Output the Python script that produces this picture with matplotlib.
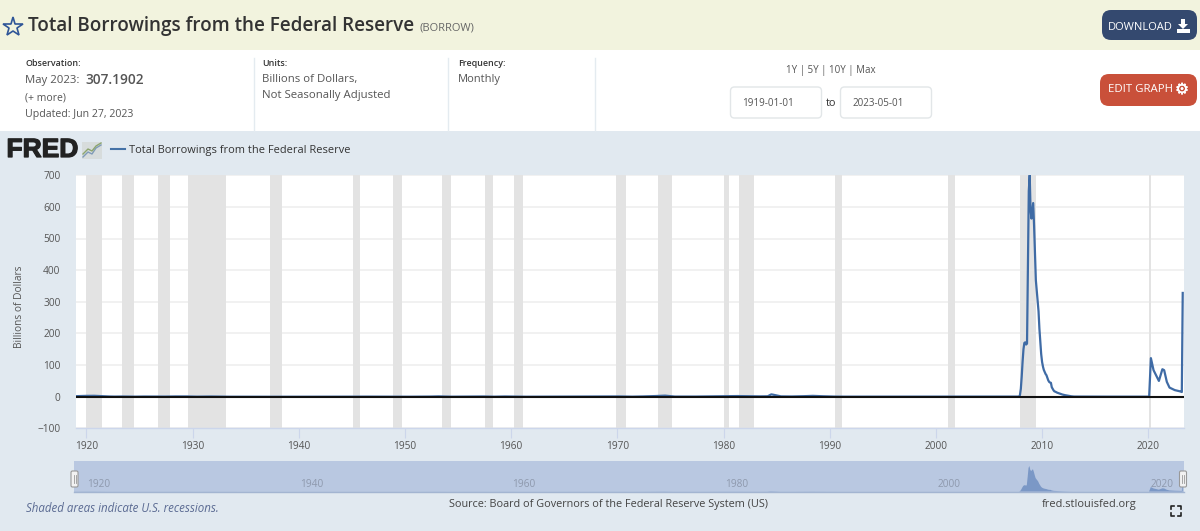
import matplotlib
matplotlib.use("Agg")
import matplotlib.pyplot as plt
import matplotlib.dates as mdates
import matplotlib.patheffects as pe
import matplotlib.transforms as mtrans
import pandas as pd
from matplotlib.patches import FancyBboxPatch, Rectangle, Polygon

W, H = 1200, 531
FONT = "Open Sans"
plt.rcParams["font.family"] = [FONT, "DejaVu Sans"]

TITLE = "Total Borrowings from the Federal Reserve"
SERIES_ID = "(BORROW)"
SOURCE = "Source: Board of Governors of the Federal Reserve System (US)"

early_dates = ["1919-01","1919-06","1920-01","1920-10","1921-06","1922-03","1922-09","1923-06","1924-01","1924-08",
               "1925-06","1926-06","1927-06","1928-06","1929-06","1930-06","1931-10","1932-06","1933-06","1934-06",
               "1937-06","1940-06","1945-06","1946-06","1950-06","1952-06","1953-03","1954-06","1956-06","1957-06",
               "1958-06","1959-06","1960-03","1961-06","1965-06","1966-09","1969-06","1970-03","1971-06","1972-06",
               "1973-08","1974-07","1975-06","1977-06","1978-10","1979-10","1980-04","1981-05","1982-06","1983-06",
               "1984-03","1984-07","1984-09","1985-06","1986-06","1987-08","1988-06","1989-06","1990-06","1991-06",
               "1995-06","2000-06","2001-09","2002-01","2005-06","2007-10","2007-11"]
early_vals = [1.8,2.2,2.8,3.0,2.0,0.8,0.5,0.8,0.5,0.3,
              0.7,0.6,0.5,1.0,1.0,0.3,0.8,0.5,0.1,0.0,
              0.0,0.0,0.3,0.4,0.1,0.6,1.2,0.2,0.9,0.9,
              0.2,0.9,0.6,0.1,0.5,0.8,1.2,1.0,0.3,1.0,
              2.2,3.5,0.6,0.6,1.2,2.0,2.0,2.2,1.5,1.2,
              1.5,7.5,6.5,1.2,0.9,1.8,2.8,1.5,0.6,0.3,
              0.3,0.3,0.3,0.1,0.2,0.3,0.5]

crisis_dates = ["2007-12","2008-01","2008-02","2008-03","2008-04","2008-05","2008-06","2008-07","2008-08","2008-09",
                "2008-10","2008-11","2008-12","2009-01","2009-02","2009-03","2009-04","2009-05","2009-06","2009-07",
                "2009-08","2009-09","2009-10","2009-11","2009-12","2010-01","2010-02","2010-03","2010-04","2010-05",
                "2010-06","2010-07","2010-08","2010-09","2010-10","2010-11","2010-12","2011-01","2011-02","2011-03",
                "2011-04","2011-06","2011-08","2011-10","2011-12","2012-03","2012-07","2012-10","2013-01","2016-01","2020-01"]
crisis_vals = [5,25,65,110,150,170,172,165,168,400,
               650,700,590,563,590,612,540,450,368,335,
               305,270,215,175,135,110,95,85,78,72,
               68,60,52,47,45,44,30,25,20,17,
               16,13,11,9,7,5,3,1.5,0.6,0.3,0.3]

recent_dates = ["2020-02","2020-03","2020-04","2020-07","2020-11","2021-01","2021-05","2021-07","2021-10","2022-01",
                "2022-07","2023-01","2023-03","2023-04"]
recent_vals = [0.3,60,122,84,61,50,87,84,47,29,21,17,15,328]

rec_start = ["1920-01","1923-05","1926-10","1929-08","1937-05","1945-02","1948-11","1953-07","1957-08","1960-04",
             "1969-12","1973-11","1980-01","1981-07","1990-07","2001-03","2007-12","2020-02"]
rec_end = ["1921-07","1924-07","1927-11","1933-03","1938-06","1945-10","1949-10","1954-05","1958-04","1961-02",
           "1970-11","1975-03","1980-07","1982-11","1991-03","2001-11","2009-06","2020-04"]

y_ticks = [-100, 0, 100, 200, 300, 400, 500, 600, 700]
x_tick_years = [1920, 1930, 1940, 1950, 1960, 1970, 1980, 1990, 2000, 2010, 2020]
nav_years = [1920, 1940, 1960, 1980, 2000, 2020]

dates = pd.to_datetime(early_dates + crisis_dates + recent_dates)
values = early_vals + crisis_vals + recent_vals
xmin, xmax = pd.Timestamp("1919-01-01"), pd.Timestamp("2023-05-01")

fig = plt.figure(figsize=(W / 100, H / 100), dpi=100, facecolor="#e1e9f0")

def axes_px(x0, y0, x1, y1, **kw):
    return fig.add_axes([x0 / W, 1 - y1 / H, (x1 - x0) / W, (y1 - y0) / H], **kw)

# page furniture, in pixel coordinates
bg = axes_px(0, 0, W, H)
bg.set_xlim(0, W); bg.set_ylim(H, 0); bg.axis("off")
bg.add_patch(Rectangle((0, 0), W, 49.5, fc="#f2f3de", ec="none"))
bg.add_patch(Rectangle((0, 49.5), W, 81.5, fc="white", ec="none"))
for xd in (253.5, 447.5, 595):
    bg.plot([xd, xd], [58, 131], color="#e4ebf0", lw=1)

def t(x, y, s, size=8, color="#555555", ha="left", va="center", **kw):
    return bg.text(x, y + 1, s, fontsize=size, color=color, ha=ha, va=va, **kw)

bg.plot([13], [27], marker="*", ms=15, mfc="none", mec="#2f5597", mew=1.2)
t(28, 25.5, TITLE, size=13.6, color="#333333", fontweight="semibold")
t(419, 26.5, SERIES_ID, size=8, color="#666666")

t(25, 63, "Observation:", size=6.4, color="#333333", fontweight="semibold")
t(25, 79, "May 2023:", size=8.2)
t(85, 78.5, "307.1902", size=9.8, fontweight="semibold")
t(25, 97, "(+ more)", size=7.5)
t(25, 113, "Updated: Jun 27, 2023", size=7.6)
t(262.5, 63, "Units:", size=6.4, color="#333333", fontweight="semibold")
t(262.5, 78.5, "Billions of Dollars,", size=8.2)
t(262.5, 94.5, "Not Seasonally Adjusted", size=8.2)
t(458, 63, "Frequency:", size=6.4, color="#333333", fontweight="semibold")
t(458, 78.5, "Monthly", size=8)
t(830.5, 69, "1Y | 5Y | 10Y | Max", size=7, ha="center")

for bx, bw, label in ((730.5, 91, "1919-01-01"), (840.5, 91, "2023-05-01")):
    bg.add_patch(FancyBboxPatch((bx, 87), bw, 31, boxstyle="round,pad=0,rounding_size=4",
                                fc="white", ec="#e2e6e8", lw=1))
    t(bx + 12, 102, label, size=7.1)
t(831, 102, "to", size=7.8, color="#333333", ha="center")

def button(x0, y0, x1, y1, color):
    bg.add_patch(FancyBboxPatch((x0, y0), x1 - x0, y1 - y0, boxstyle="round,pad=0,rounding_size=9",
                                fc=color, ec="none"))

button(1102, 10, 1197, 40, "#34496f")
t(1108, 26.5, "DOWNLOAD", size=8, color="white")
bg.add_patch(Polygon([[1181, 19], [1185, 19], [1185, 24], [1188, 24], [1183, 29], [1178, 24], [1181, 24]], fc="white", ec="none"))
bg.add_patch(Rectangle((1177, 29), 13, 4, fc="white", ec="none"))
button(1100, 74, 1197, 106, "#c9503a")
t(1108, 89, "EDIT GRAPH", size=8.2, color="white")
gear = t(1182, 88.5, "\u2699", size=11, color="white", ha="center", family="DejaVu Sans")
gear.set_path_effects([pe.withStroke(linewidth=0.4, foreground="white")])

# FRED logo and legend
logo = t(6.5, 149, "FRED", size=19, color="#222222", fontweight="bold", family="Liberation Sans")
logo.set_path_effects([pe.withStroke(linewidth=0.9, foreground="#222222")])
bg.add_patch(Rectangle((82, 142), 20, 17, fc="#d7dcdc", ec="none"))
bg.plot([83, 88, 92, 96, 101], [157, 152, 154, 148, 145], color="#7f9bb8", lw=1)
bg.plot([83, 88, 92, 96, 101], [154, 149, 151, 146, 143], color="#8ca56f", lw=1)
bg.plot([111, 125], [149, 149], color="#4572a7", lw=1.5)
t(129, 149, TITLE, size=7.9, color="#333333")

# main chart
ax = axes_px(75.8, 175.2, 1183.6, 428.4)
ax.set_facecolor("white")
ax.set_xlim(xmin, xmax)
ax.set_ylim(-100, 700)
for s, e in zip(rec_start, rec_end):
    ax.axvspan(pd.Timestamp(s), pd.Timestamp(e), fc="#e3e3e3", ec="none", zorder=1)
ax.set_yticks(y_ticks)
ax.set_xticks([pd.Timestamp(f"{y}-01-01") for y in x_tick_years])
ax.xaxis.set_major_formatter(mdates.DateFormatter("%Y"))
ax.grid(axis="y", color="#efefef", lw=1.2, zorder=2)
ax.set_axisbelow(True)
ax.plot(dates, values, color="#3f6ba5", lw=1.6, zorder=3, solid_joinstyle="round")
ax.axhline(0, color="#111111", lw=1.5, zorder=4)
for s in ax.spines.values():
    s.set_visible(False)
ax.spines["bottom"].set_visible(True)
ax.spines["bottom"].set_color("#ccd6eb")
ax.spines["bottom"].set_linewidth(1)
ax.tick_params(axis="y", length=0, labelsize=7.3, labelcolor="#555555", pad=11)
ax.tick_params(axis="x", length=7, width=0.8, color="#ccd6eb", labelsize=7.3, labelcolor="#555555", pad=2.2)
t(19.5, 305.5, "Billions of Dollars", size=7.3, rotation=90, ha="center")

# navigator
bg.add_patch(Rectangle((74, 461), 1109.6, 30.5, fc="#b9c8e1", ec="none"))
bg.plot([74, 1183.6], [491.5, 491.5], color="#a3b5d1", lw=1)
nav = axes_px(74, 466, 1183.6, 491.5)
nav.set_xlim(xmin, xmax)
nav.set_ylim(0, 700)
nav.axis("off")
nav.fill_between(dates, 0, values, facecolor="#7b98c6", edgecolor="none", clip_on=False)
shift = mtrans.ScaledTranslation(2.5 / 100, 0, fig.dpi_scale_trans)
for y in nav_years:
    nav.text(pd.Timestamp(f"{y}-01-01"), 0.07, str(y), transform=nav.get_xaxis_transform() + shift,
             fontsize=7.3, color="#8e99ad", ha="left", va="bottom")

# handles sit above the navigator
top = axes_px(0, 0, W, H)
top.set_xlim(0, W); top.set_ylim(H, 0); top.axis("off")
for hx in (74.5, 1183):
    top.add_patch(FancyBboxPatch((hx - 3.5, 471), 7, 16, boxstyle="round,pad=0,rounding_size=1.5",
                                 fc="#f2f2f2", ec="#999999", lw=0.8))
    top.plot([hx - 1, hx - 1], [475, 483], color="#999999", lw=0.6)
    top.plot([hx + 1, hx + 1], [475, 483], color="#999999", lw=0.6)

t(26, 507.5, "Shaded areas indicate U.S. recessions.", size=8.3, color="#5a6a92", fontstyle="italic")
t(449, 503, SOURCE, size=7.87, color="#444444")
t(1042, 503.5, "fred.stlouisfed.org", size=7.95, color="#444444")
for (cx, cy, dx, dy) in ((1170.5, 506, 1, 1), (1180.5, 506, -1, 1), (1170.5, 516, 1, -1), (1180.5, 516, -1, -1)):
    bg.plot([cx, cx, cx + 3 * dx], [cy + 3 * dy, cy, cy], color="#222222", lw=1.2)

fig.savefig("out.png", dpi=100, facecolor=fig.get_facecolor())
